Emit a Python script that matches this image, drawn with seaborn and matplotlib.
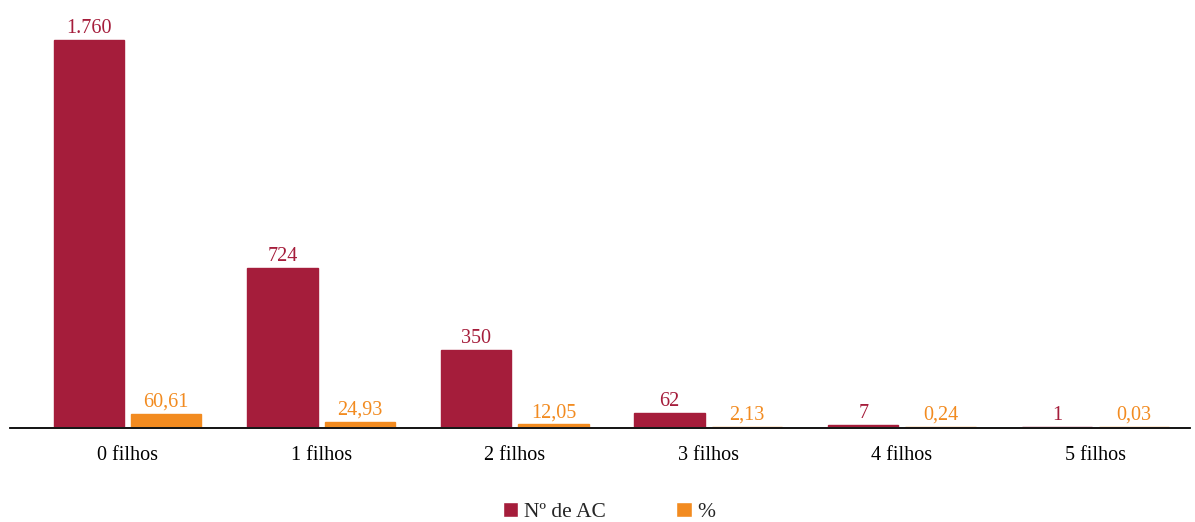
import matplotlib
matplotlib.use("Agg")
import matplotlib.pyplot as plt
import seaborn as sns
import pandas as pd

# Distribution by number of children
categorias = ["0 filhos", "1 filhos", "2 filhos", "3 filhos", "4 filhos", "5 filhos"]
n_ac = [1760, 724, 350, 62, 7, 1]
percentagem = [60.61, 24.93, 12.05, 2.13, 0.24, 0.03]
series = ["Nº de AC", "%"]

cor_ac = "#A51D3B"
cor_pct = "#F28B20"

df = pd.DataFrame({
    "categoria": categorias * 2,
    "valor": n_ac + percentagem,
    "serie": [series[0]] * len(categorias) + [series[1]] * len(categorias),
})

sns.set_theme(style="white")
plt.rcParams["font.family"] = ["Liberation Serif", "DejaVu Serif"]

W, H = 1195, 522
fig = plt.figure(figsize=(W / 100, H / 100), dpi=100)
ax = fig.add_axes([10 / W, 95 / H, 1180 / W, 407 / H])

sns.barplot(
    data=df, x="categoria", y="valor", hue="serie",
    palette=[cor_ac, cor_pct], width=0.8, gap=0.09,
    saturation=1, ax=ax, legend=True,
)

# thin outline in the fill colour keeps very small bars visible
for cont, cor in zip(ax.containers, [cor_ac, cor_pct]):
    for barra in cont:
        barra.set_edgecolor(cor)
        barra.set_linewidth(1.0)
        barra.set_zorder(3)

ax.set_xlim(-0.607, 5.488)
ax.set_ylim(0, 1760 * 407 / 387)


def fmt_int(v):
    return f"{int(round(v)):,}".replace(",", ".")


def fmt_dec(v):
    return f"{v:.2f}".replace(".", ",")


ax.bar_label(ax.containers[0], labels=[fmt_int(v) for v in n_ac],
             padding=1.5, fontsize=14.5, color=cor_ac)
ax.bar_label(ax.containers[1], labels=[fmt_dec(v) for v in percentagem],
             padding=1.5, fontsize=14.5, color=cor_pct)

for s in ["top", "right", "left"]:
    ax.spines[s].set_visible(False)
ax.spines["bottom"].set_color("black")
ax.spines["bottom"].set_linewidth(1.3)
ax.spines["bottom"].set_position(("outward", 1.0))
ax.spines["bottom"].set_zorder(1)
ax.set_yticks([])
ax.set_xlabel("")
ax.set_ylabel("")
ax.tick_params(axis="x", length=0, pad=13, labelsize=14.5, colors="black")

ax.get_legend().remove()
handles, labels = ax.get_legend_handles_labels()
fig.legend(
    handles, labels, loc="center", bbox_to_anchor=(609 / W, 1 - 512 / H),
    ncol=2, frameon=False, fontsize=15.5, handlelength=0.7, handleheight=0.7,
    handletextpad=0.25, columnspacing=3.3, borderpad=0,
)

fig.savefig("out.png", dpi=100)
